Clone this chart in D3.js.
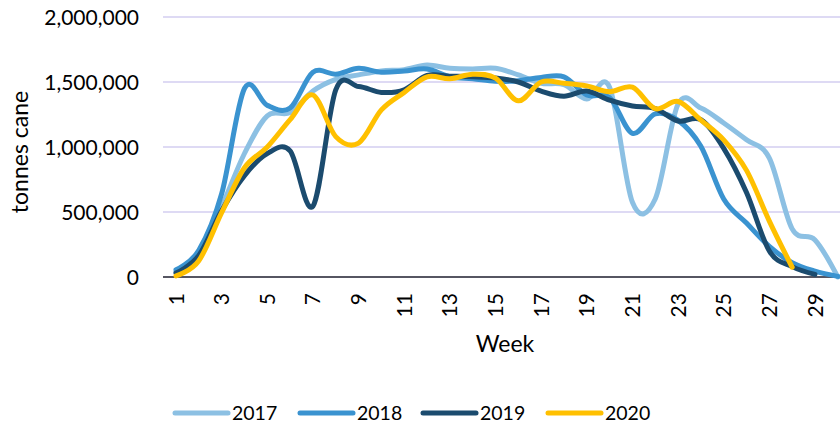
<!DOCTYPE html>
<html><head><meta charset="utf-8">
<script src="https://cdn.jsdelivr.net/npm/d3@7/dist/d3.min.js"></script>
<style>
html,body{margin:0;padding:0;background:#fff;}
svg{display:block;font-family:Lato,"Open Sans",sans-serif;}
</style></head>
<body>
<svg id="chart" width="840" height="428"></svg>
<script>
const weeks = d3.range(1, 31);
const seriesNames = ["2017", "2018", "2019", "2020"];
const seriesColors = ["#8CC0E3", "#3A93D0", "#1B4B6E", "#FFC000"];
const yTicks = [0, 500000, 1000000, 1500000, 2000000];
const xTickLabels = [1,3,5,7,9,11,13,15,17,19,21,23,25,27,29];

const s2017 = [40000,180000,540000,950000,1240000,1265000,1430000,1520000,1555000,1585000,
  1595000,1630000,1605000,1600000,1605000,1555000,1490000,1480000,1370000,1460000,
  575000,600000,1330000,1300000,1185000,1055000,915000,370000,285000,0];
const s2018 = [55000,205000,640000,1450000,1320000,1300000,1575000,1560000,1605000,1575000,
  1585000,1600000,1540000,1525000,1505000,1510000,1535000,1540000,1400000,1380000,
  1105000,1255000,1205000,1005000,600000,415000,235000,110000,45000,5000];
const s2019 = [30000,165000,510000,780000,950000,970000,545000,1440000,1465000,1420000,
  1440000,1550000,1545000,1540000,1530000,1500000,1430000,1390000,1430000,1360000,
  1315000,1295000,1200000,1210000,990000,650000,200000,80000,20000];
const s2020 = [8000,125000,495000,840000,1000000,1210000,1400000,1080000,1030000,1285000,
  1420000,1540000,1525000,1560000,1530000,1355000,1500000,1490000,1470000,1425000,
  1460000,1295000,1350000,1207000,1055000,820000,430000,75000];
const seriesValues = [s2017, s2018, s2019, s2020];

const svg = d3.select("#chart");
const plotLeft = 163, plotRight = 860;
const x = d3.scalePoint().domain(weeks).range([176, 837.8]);
const y = d3.scaleLinear().domain([0, 2000000]).range([277, 17]);

// gridlines
svg.append("g").selectAll("line").data(yTicks.filter(d => d > 0)).join("line")
  .attr("x1", plotLeft).attr("x2", plotRight)
  .attr("y1", d => y(d)).attr("y2", d => y(d))
  .attr("stroke", "#D3CEF0").attr("stroke-width", 1.5);

// y axis labels
const yAxis = d3.axisLeft(y).tickValues(yTicks).tickFormat(d3.format(",")).tickSize(0).tickPadding(0);
const gy = svg.append("g").attr("transform", "translate(139,0)").call(yAxis);
gy.select(".domain").remove();
gy.selectAll("text").attr("font-size", 21).attr("fill", "#000")
  .attr("font-family", "Lato, 'Open Sans', sans-serif").attr("dy", "0.36em");

// x axis baseline
svg.append("line").attr("x1", plotLeft).attr("x2", plotRight)
  .attr("y1", y(0)).attr("y2", y(0)).attr("stroke", "#1E1E2E").attr("stroke-width", 1.5);

// x axis labels
const xAxis = d3.axisBottom(x).tickValues(xTickLabels).tickSize(0).tickPadding(0);
const gx = svg.append("g").call(xAxis);
gx.select(".domain").remove();
gx.selectAll(".tick").attr("transform", d => `translate(${x(d)},293)`);
gx.selectAll("text").attr("transform", "rotate(-90)")
  .attr("text-anchor", "end").attr("x", 0).attr("y", 0).attr("dy", "0.36em")
  .attr("font-size", 21).attr("fill", "#000")
  .attr("font-family", "Lato, 'Open Sans', sans-serif");

// lines
const line = d3.line().x((d, i) => x(weeks[i])).y(d => y(d)).curve(d3.curveCardinal.tension(0));
svg.append("g").selectAll("path").data(seriesValues).join("path")
  .attr("d", d => line(d)).attr("fill", "none")
  .attr("stroke", (d, i) => seriesColors[i]).attr("stroke-width", 5)
  .attr("stroke-linecap", "round").attr("stroke-linejoin", "round");

// axis titles
svg.append("text").attr("x", 505).attr("y", 352).attr("text-anchor", "middle")
  .attr("font-size", 23).attr("fill", "#000").text("Week");
svg.append("text").attr("transform", "translate(28,152) rotate(-90)").attr("text-anchor", "middle")
  .attr("font-size", 23).attr("fill", "#000").text("tonnes cane");

// legend
const legendX = [175, 300, 423, 548];
const lg = svg.append("g").selectAll("g").data(seriesNames).join("g")
  .attr("transform", (d, i) => `translate(${legendX[i]},413)`);
lg.append("line").attr("x1", 0).attr("x2", 53).attr("y1", 0).attr("y2", 0)
  .attr("stroke", (d, i) => seriesColors[i]).attr("stroke-width", 5).attr("stroke-linecap", "round");
lg.append("text").attr("x", 57).attr("y", 6.5).attr("font-size", 19.5).attr("fill", "#000").text(d => d);
</script>
</body></html>
